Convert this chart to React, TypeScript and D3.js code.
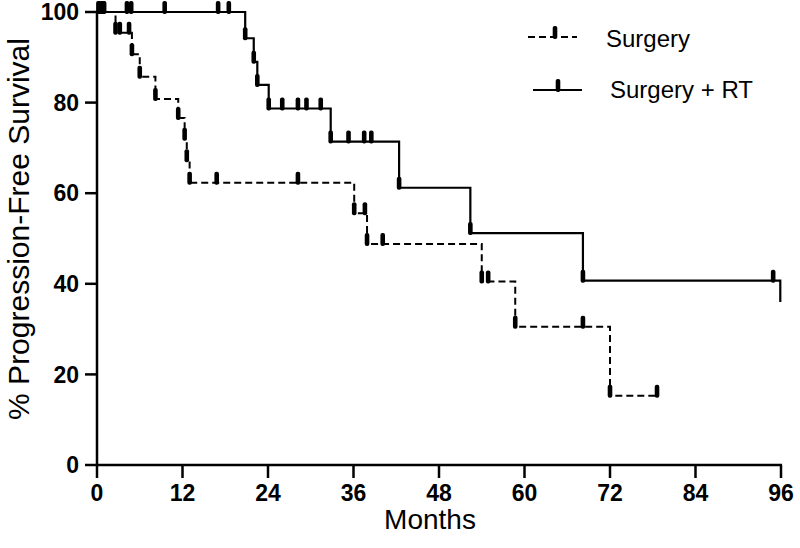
import * as d3 from 'd3';

// Kaplan-Meier progression-free survival
const xTicks = [0, 12, 24, 36, 48, 60, 72, 84, 96];
const yTicks = [0, 20, 40, 60, 80, 100];

// Surgery alone (dashed)
const surgeryEventMonths = [2.6, 4.9, 6.0, 8.2, 11.4, 12.3, 12.6, 13.0, 36.1, 37.9, 54.0, 58.7, 72.0];
const surgerySurvival = [95.4, 90.7, 85.7, 80.8, 76.6, 72.0, 67.3, 62.3, 55.6, 48.8, 40.5, 30.5, 15.3];
const surgeryLastFollowUp = 78.6;
const surgeryMarks = [0.3, 0.8, 2.6, 3.2, 4.5, 4.9, 6.0, 8.2, 11.4, 12.3, 12.6, 13.0, 16.8, 28.2, 36.1, 37.6, 37.9, 40.1, 54.0, 54.9, 58.7, 68.2, 72.0, 78.6];

// Surgery + RT (solid)
const rtEventMonths = [20.8, 22.0, 22.5, 24.1, 32.8, 42.4, 52.4, 68.2, 95.9];
const rtSurvival = [94.2, 89.0, 83.9, 78.7, 71.4, 61.2, 51.2, 40.7, 36.0];
const rtLastFollowUp = 95.9;
const rtMarks = [0.2, 0.6, 1.0, 4.2, 4.8, 9.5, 17.0, 18.5, 20.8, 22.0, 22.5, 24.1, 26.0, 28.2, 29.4, 31.4, 32.8, 35.3, 37.5, 38.5, 42.4, 52.4, 68.2, 94.9];

const W = 800;
const H = 548;
const x = d3.scaleLinear().domain([0, 96]).range([97, 781]);
const y = d3.scaleLinear().domain([0, 100]).range([465, 12]);

const stepPoints = (times: number[], surv: number[], last: number): [number, number][] => {
  const pts: [number, number][] = [[0, 100]];
  times.forEach((t, i) => pts.push([t, surv[i]]));
  if (last > times[times.length - 1]) pts.push([last, surv[surv.length - 1]]);
  return pts;
};

const levelAt = (times: number[], surv: number[], t: number) => {
  let v = 100;
  times.forEach((et, i) => {
    if (t >= et - 1e-9) v = surv[i];
  });
  return v;
};

const line = d3
  .line<[number, number]>()
  .x(d => x(d[0]))
  .y(d => y(d[1]))
  .curve(d3.curveStepAfter);

const Mark = ({ cx, cy }: { cx: number; cy: number }) => (
  <rect x={cx - 2.3} y={cy - 11} width={4.6} height={13} rx={2} fill="#000" />
);

export default function App() {
  const surgeryPath = line(stepPoints(surgeryEventMonths, surgerySurvival, surgeryLastFollowUp)) || '';
  const rtPath = line(stepPoints(rtEventMonths, rtSurvival, rtLastFollowUp)) || '';
  const font = '"Liberation Sans", Arial, sans-serif';

  return (
    <svg
      width={W}
      height={H}
      style={{ position: 'absolute', left: 0, top: 0, background: '#fff' }}
      fontFamily={font}
    >
      {/* axes */}
      <line x1={x(0)} x2={x(0)} y1={y(100) - 1} y2={y(0) + 1} stroke="#000" strokeWidth={2.5} />
      <line x1={x(0) - 1} x2={x(96) + 1} y1={y(0)} y2={y(0)} stroke="#000" strokeWidth={2.5} />
      {yTicks.map(t => (
        <g key={'y' + t}>
          <line x1={x(0) - 12} x2={x(0)} y1={y(t)} y2={y(t)} stroke="#000" strokeWidth={2.5} />
          <text x={x(0) - 18} y={y(t)} dy="0.36em" textAnchor="end" fontSize={23} fontWeight="bold">
            {t}
          </text>
        </g>
      ))}
      {xTicks.map(t => (
        <g key={'x' + t}>
          <line x1={x(t)} x2={x(t)} y1={y(0)} y2={y(0) + 13} stroke="#000" strokeWidth={2.5} />
          <text x={x(t)} y={501} textAnchor="middle" fontSize={23} fontWeight="bold">
            {t}
          </text>
        </g>
      ))}
      <text x={430} y={529} textAnchor="middle" fontSize={28}>
        Months
      </text>
      <text transform="translate(29,229) rotate(-90)" textAnchor="middle" fontSize={30}>
        % Progression-Free Survival
      </text>

      {/* curves */}
      <path d={surgeryPath} fill="none" stroke="#000" strokeWidth={2} strokeDasharray="7,4" />
      <path d={rtPath} fill="none" stroke="#000" strokeWidth={2.2} />
      {surgeryMarks.map((t, i) => (
        <Mark key={'s' + i} cx={x(t)} cy={y(levelAt(surgeryEventMonths, surgerySurvival, t))} />
      ))}
      {rtMarks.map((t, i) => (
        <Mark key={'r' + i} cx={x(t)} cy={y(levelAt(rtEventMonths, rtSurvival, t))} />
      ))}

      {/* legend */}
      <line x1={528} x2={577} y1={37} y2={37} stroke="#000" strokeWidth={2} strokeDasharray="7,4" />
      <Mark cx={555} cy={37} />
      <text x={606} y={47} fontSize={24}>
        Surgery
      </text>
      <line x1={533} x2={582} y1={90} y2={90} stroke="#000" strokeWidth={2.2} />
      <Mark cx={558} cy={90} />
      <text x={610} y={98} fontSize={24}>
        Surgery + RT
      </text>
    </svg>
  );
}
